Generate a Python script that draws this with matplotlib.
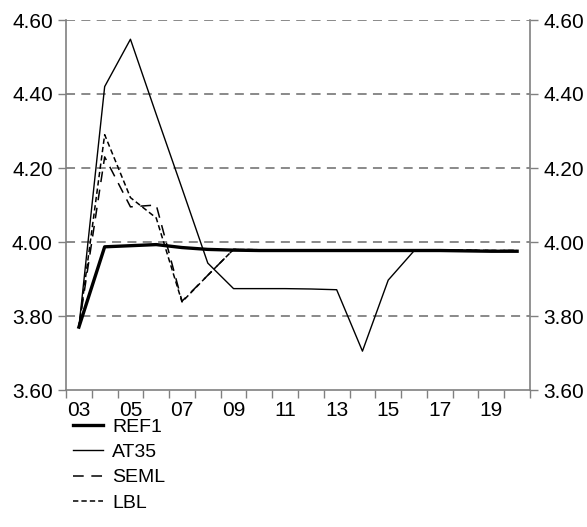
import matplotlib
matplotlib.use("Agg")
import matplotlib.pyplot as plt
from matplotlib.ticker import FixedLocator, NullFormatter

plt.rcParams["font.family"] = ["Liberation Sans", "DejaVu Sans"]

# x categories (years, 2-digit)
years = ["03", "04", "05", "06", "07", "08", "09", "10", "11",
         "12", "13", "14", "15", "16", "17", "18", "19", "20"]

ref1 = [3.770, 3.987, 3.990, 3.993, 3.985, 3.980, 3.978, 3.977, 3.977,
        3.977, 3.977, 3.977, 3.977, 3.977, 3.977, 3.976, 3.975, 3.975]
at35 = [3.770, 4.420, 4.548, 4.345, 4.145, 3.943, 3.874, 3.874, 3.874,
        3.873, 3.871, 3.705, 3.897, 3.976, 3.977, 3.977, 3.976, 3.975]
seml = [3.770, 4.230, 4.095, 4.100, 3.840, 3.910, 3.980, 3.979, 3.979,
        3.979, 3.979, 3.979, 3.979, 3.979, 3.978, 3.978, 3.977, 3.977]
lbl = [3.770, 4.290, 4.120, 4.065, 3.838, 3.910, 3.980, 3.979, 3.979,
       3.979, 3.979, 3.979, 3.979, 3.979, 3.978, 3.978, 3.977, 3.977]

yticks = [3.60, 3.80, 4.00, 4.20, 4.40, 4.60]

GRAY = "#808080"
FS = 15

fig = plt.figure(figsize=(5.87, 5.27), dpi=100)
ax = fig.add_axes([66 / 587, 1 - 390 / 527, 464 / 587, 370 / 527])

x = list(range(len(years)))
ax.plot(x, ref1, color="black", lw=2.4, label="REF1", zorder=5)
ax.plot(x, at35, color="black", lw=1.0, label="AT35", zorder=4)
ax.plot(x, seml, color="black", lw=1.1, dashes=(7, 5), label="SEML", zorder=3)
ax.plot(x, lbl, color="black", lw=1.1, dashes=(3.5, 2), label="LBL", zorder=3)

ax.set_xlim(-0.5, len(years) - 0.5)
ax.set_ylim(3.60, 4.60)

# category boundaries get the tick marks, labels sit in the middle
ax.xaxis.set_major_locator(FixedLocator([i - 0.5 for i in range(len(years) + 1)]))
ax.xaxis.set_major_formatter(NullFormatter())
ax.xaxis.set_minor_locator(FixedLocator(x[::2]))
ax.set_xticklabels(years[::2], minor=True)
ax.tick_params(axis="x", which="major", direction="out", length=6, color=GRAY, width=1)
ax.tick_params(axis="x", which="minor", length=0, labelsize=FS, pad=8)

ax.set_yticks(yticks)
ax.set_yticklabels([f"{v:.2f}" for v in yticks])
ax.tick_params(axis="y", direction="out", length=6, color=GRAY, width=1,
               labelsize=FS, left=True, right=True, labelleft=True, labelright=True)

for v in yticks[1:]:
    ax.axhline(v, color=GRAY, lw=1.3, dashes=(5, 3.5), zorder=1)

for side in ("left", "right", "bottom"):
    ax.spines[side].set_color(GRAY)
    ax.spines[side].set_linewidth(1.2)
ax.spines["top"].set_visible(False)

leg = fig.legend(loc="upper left", bbox_to_anchor=(73 / 587, 1 - 418 / 527),
                 frameon=False, fontsize=14, handlelength=1.55, handletextpad=0.45,
                 labelspacing=0.4, borderaxespad=0, borderpad=0)

fig.savefig("out.png", dpi=100)
